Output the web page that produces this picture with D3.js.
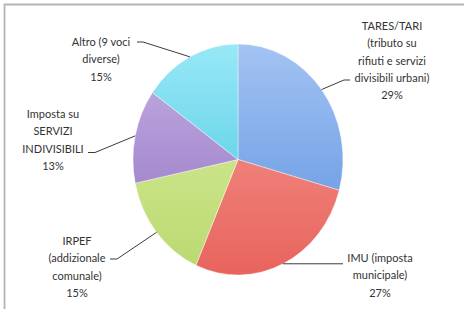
<!DOCTYPE html>
<html><head><meta charset="utf-8">
<script src="https://cdn.jsdelivr.net/npm/d3@7"></script>
<style>body{margin:0;background:#fff}svg{display:block}</style>
</head><body>
<svg id="c" width="464" height="309"></svg>
<script>
const categories = ["TARES/TARI (tributo su rifiuti e servizi divisibili urbani)", "IMU (imposta municipale)", "IRPEF (addizionale comunale)", "Imposta su SERVIZI INDIVISIBILI", "Altro (9 voci diverse)"];
const labelLines = [
  ["TARES/TARI", "(tributo su", "rifiuti e servizi", "divisibili urbani)"],
  ["IMU (imposta", "municipale)"],
  ["IRPEF", "(addizionale", "comunale)"],
  ["Imposta su", "SERVIZI", "INDIVISIBILI"],
  ["Altro (9 voci", "diverse)"]
];
const values = [29, 27, 15, 13, 15];
const colorsLight = ["#a3c3f3", "#f59c96", "#daefa0", "#c6b0e4", "#98e8f6"];
const colorsDark  = ["#5b91df", "#e8645d", "#bad970", "#8f70c0", "#40c4df"];

const svg = d3.select("#c");
// frame
svg.append("line").attr("x1",4).attr("y1",4.5).attr("x2",464).attr("y2",4.5).attr("stroke","#b4b4b4").attr("stroke-width",1.8);
svg.append("line").attr("x1",4.5).attr("y1",4).attr("x2",4.5).attr("y2",309).attr("stroke","#b4b4b4").attr("stroke-width",1.8);

const cx = 238, cy = 159.5, r = 105, sy = 1.1;
const total = d3.sum(values);
const pie = d3.pie().sort(null).value(d => d)(values);
const arc = d3.arc().innerRadius(0).outerRadius(r);

const defs = svg.append("defs");
pie.forEach((p, i) => {
  const g = defs.append("linearGradient").attr("id", "g" + i)
    .attr("gradientUnits", "userSpaceOnUse")
    .attr("x1", 0).attr("y1", -r).attr("x2", 0).attr("y2", r);
  g.append("stop").attr("offset", "0%").attr("stop-color", colorsLight[i]);
  g.append("stop").attr("offset", "100%").attr("stop-color", colorsDark[i]);
});

const gp = svg.append("g").attr("transform", `translate(${cx},${cy}) scale(1,${sy})`);
gp.selectAll("path").data(pie).join("path")
  .attr("d", arc)
  .attr("fill", (d, i) => `url(#g${i})`)
  .attr("stroke", "#ffffff").attr("stroke-width", 0.4);

// labels
const lh = 17.3;
const labelPos = [
  {x: 392, y: 26, conn: [[344, 80], [350, 80]]},
  {x: 380, y: 258, conn: null},
  {x: 77, y: 241, conn: [[117, 259], [110, 259]]},
  {x: 53, y: 114, conn: [[95, 152.5], [88, 152.5]]},
  {x: 101, y: 42, conn: [[143, 42], [137, 42]]}
];
function edgePoint(a) {
  return [cx + r * Math.sin(a), cy - r * sy * Math.cos(a)];
}
const pct = values.map(v => Math.round(v / total * 100) + "%");

pie.forEach((p, i) => {
  const mid = (p.startAngle + p.endAngle) / 2;
  const e = edgePoint(mid);
  let pts;
  if (labelPos[i].conn) pts = [e, ...labelPos[i].conn];
  else pts = [e, [343, e[1]]];
  svg.append("path").attr("d", d3.line()(pts)).attr("fill", "none")
    .attr("stroke", "#3c3c3c").attr("stroke-width", 1);
  const lines = labelLines[i].concat([pct[i]]);
  const t = svg.append("text").attr("text-anchor", "middle")
    .attr("font-family", "Lato, sans-serif").attr("font-size", 11)
    .attr("fill", "#333333");
  lines.forEach((s, k) => {
    t.append("tspan").attr("x", labelPos[i].x).attr("y", labelPos[i].y + k * lh + 4).text(s);
  });
});
</script>
</body></html>
